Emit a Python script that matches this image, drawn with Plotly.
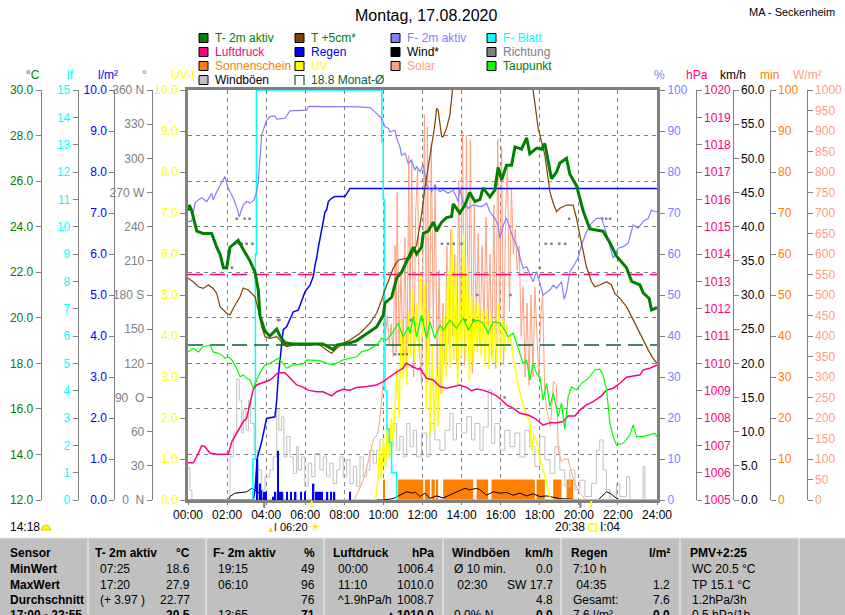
import plotly.graph_objects as go

# ── Messwerte (Stunde, Wert) ────────────────────────────────────────────────
T2M = [(0, 24.7), (0.07, 24.95), (0.19, 24.7), (0.45, 23.8), (0.77, 23.7), (1.21, 23.7), (1.47, 23.1),
       (1.64, 22.8), (1.81, 22.2), (1.98, 22.2), (2.15, 23.1), (2.57, 23.4), (2.83, 23.0), (3.17, 22.5),
       (3.43, 22.0), (3.54, 21.4), (3.60, 21.2), (3.68, 20.1), (3.94, 19.4), (4.19, 19.2), (4.54, 19.5),
       (4.71, 19.2), (4.96, 18.9), (5.37, 18.85), (6.91, 18.85), (7.42, 18.6), (7.61, 18.8), (7.93, 18.85),
       (8.29, 18.9), (8.63, 19.0), (9.14, 19.3), (9.65, 19.6), (9.99, 20.1), (10.08, 20.65), (10.42, 20.9),
       (10.68, 21.75), (10.93, 22.0), (11.36, 22.8), (11.53, 23.1), (11.70, 22.8), (11.95, 23.1),
       (12.04, 23.7), (12.29, 23.8), (12.55, 24.2), (12.72, 23.8), (12.98, 24.2), (13.23, 24.4),
       (13.49, 24.45), (13.57, 25.0), (13.91, 24.6), (14.17, 24.95), (14.42, 25.5), (14.68, 25.1),
       (14.94, 25.2), (15.10, 25.7), (15.45, 25.3), (15.70, 25.6), (15.87, 26.6), (16.05, 26.05),
       (16.30, 26.7), (16.56, 26.7), (16.73, 27.5), (17.07, 27.4), (17.33, 27.9), (17.49, 27.2),
       (17.84, 27.45), (18.09, 27.4), (18.26, 27.65), (18.43, 26.85), (18.60, 26.1), (18.86, 26.4),
       (19.03, 26.8), (19.37, 27.0), (19.54, 26.3), (19.88, 25.8), (20.22, 24.7), (20.56, 23.9),
       (21.24, 23.8), (21.59, 23.3), (21.93, 22.7), (22.44, 22.2), (22.70, 21.6), (23.12, 21.45),
       (23.29, 21.1), (23.60, 20.85), (23.72, 20.35), (24.0, 20.45)]

T5CM = [(0, 21.73), (0.27, 21.58), (0.53, 21.36), (0.78, 21.29), (1.04, 21.44), (1.29, 21.29), (1.47, 21.07),
        (1.64, 20.49), (1.98, 20.2), (2.15, 20.12), (2.32, 20.42), (2.66, 20.92), (2.83, 21.31), (3.08, 21.22),
        (3.43, 20.92), (3.60, 20.34), (3.77, 19.61), (3.94, 19.17), (4.19, 19.1), (4.54, 19.17), (4.71, 19.02),
        (4.87, 18.85), (5.05, 18.73), (5.39, 18.8), (6.41, 18.85), (6.75, 18.8), (7.09, 18.59), (7.35, 18.44),
        (7.61, 18.66), (7.94, 18.88), (8.29, 19.02), (8.80, 19.32), (9.31, 19.76), (9.65, 20.2), (9.91, 20.78),
        (10.08, 21.22), (10.50, 22.17), (10.76, 22.54), (11.19, 22.61), (11.36, 22.61), (11.70, 23.19),
        (11.95, 24.51), (12.12, 25.68), (12.29, 26.63), (12.47, 27.58), (12.63, 28.46), (12.72, 29.19),
        (12.80, 29.12), (12.98, 27.95), (13.06, 27.95), (13.23, 28.32), (13.40, 28.9), (13.49, 29.63),
        (13.55, 30.2), (14.0, 32.0), (14.5, 33.5), (15.0, 34.5), (15.5, 35.0), (16.0, 35.0), (16.5, 34.5),
        (17.0, 33.0), (17.4, 31.5), (17.66, 30.0), (17.75, 29.34), (17.92, 28.32), (18.09, 27.73),
        (18.26, 27.14), (18.43, 26.12), (18.52, 25.53), (18.69, 25.03), (18.86, 24.66), (19.03, 24.81),
        (19.37, 24.95), (19.71, 24.95), (19.88, 24.37), (20.05, 23.63), (20.22, 22.9), (20.39, 22.24),
        (20.65, 21.58), (20.82, 21.36), (21.07, 21.44), (21.42, 21.58), (21.67, 21.44), (21.84, 21.07),
        (22.10, 20.85), (22.44, 20.49), (22.70, 20.05), (22.95, 19.61), (23.29, 19.02), (23.55, 18.59),
        (23.80, 18.22), (24.0, 18.0)]

F2M = [(0, 67.9), (0.19, 68.0), (0.36, 72.4), (0.53, 73.2), (0.70, 73.7), (0.96, 72.8), (1.21, 74.8),
       (1.29, 73.2), (1.47, 75.2), (1.64, 76.8), (1.81, 78.5), (1.89, 78.9), (2.06, 76.0), (2.32, 73.6),
       (2.49, 71.5), (2.62, 69.1), (2.83, 72.0), (3.00, 72.8), (3.17, 72.4), (3.38, 73.2), (3.51, 75.2),
       (3.60, 77.6), (3.65, 81.3), (3.77, 89.0), (3.99, 92.3), (4.19, 93.5), (4.45, 93.7), (4.54, 92.9),
       (4.96, 93.1), (5.22, 94.9), (6.07, 95.1), (6.17, 96.0), (8.80, 95.9), (9.31, 95.7), (9.65, 94.3),
       (9.91, 93.1), (10.08, 91.0), (10.25, 90.7), (10.33, 89.8), (10.59, 90.2), (10.68, 88.2),
       (10.84, 86.2), (10.93, 84.1), (11.10, 84.6), (11.27, 82.1), (11.44, 82.9), (11.61, 80.5),
       (11.70, 81.3), (11.87, 80.1), (12.04, 81.7), (12.21, 76.8), (12.47, 75.2), (12.63, 76.8),
       (12.89, 75.2), (13.06, 75.6), (13.31, 74.8), (13.57, 75.6), (13.83, 72.8), (13.91, 76.0),
       (14.08, 72.4), (14.34, 71.1), (14.59, 72.0), (15.02, 71.5), (15.28, 72.4), (15.45, 70.3),
       (15.70, 68.7), (15.87, 67.1), (15.96, 63.8), (16.13, 67.1), (16.30, 68.7), (16.47, 66.3),
       (16.64, 63.8), (16.81, 62.2), (16.98, 59.0), (17.15, 56.5), (17.33, 56.9), (17.49, 54.9),
       (17.66, 53.2), (17.84, 55.7), (18.01, 52.4), (18.17, 50.0), (18.52, 51.2), (18.69, 52.4),
       (18.86, 51.6), (19.11, 53.2), (19.25, 49.0), (19.37, 50.8), (19.54, 55.7), (19.71, 56.9),
       (19.96, 59.0), (20.14, 62.2), (20.39, 65.4), (20.65, 67.5), (20.91, 68.7), (21.16, 68.7),
       (21.33, 66.3), (21.59, 62.2), (21.76, 59.0), (22.01, 61.4), (22.27, 61.8), (22.52, 62.6),
       (22.78, 67.1), (23.03, 66.3), (23.29, 67.9), (23.55, 68.7), (23.72, 70.7), (23.89, 70.3), (24.0, 70.3)]

LUFTDRUCK = [(0, 1006.36), (0.27, 1006.36), (0.53, 1006.71), (0.70, 1006.99), (0.87, 1006.95), (1.13, 1006.71),
             (1.47, 1006.67), (2.06, 1006.67), (2.24, 1007.13), (2.40, 1007.32), (2.57, 1007.56), (2.83, 1007.87),
             (3.00, 1007.99), (3.17, 1008.48), (3.26, 1008.78), (3.34, 1009.05), (3.51, 1009.21), (3.77, 1009.27),
             (3.94, 1009.33), (4.19, 1009.39), (4.36, 1009.49), (4.62, 1009.66), (4.96, 1009.66), (5.22, 1009.45),
             (5.56, 1009.21), (5.82, 1009.15), (6.15, 1009.02), (6.58, 1008.96), (6.92, 1008.96), (7.35, 1008.81),
             (7.61, 1008.96), (7.94, 1009.05), (8.29, 1009.02), (8.63, 1009.12), (9.14, 1009.15), (9.65, 1009.21),
             (9.99, 1009.33), (10.33, 1009.51), (10.68, 1009.69), (11.01, 1009.82), (11.17, 1010.0),
             (11.53, 1009.87), (11.78, 1009.78), (11.87, 1009.82), (12.21, 1009.45), (12.55, 1009.39),
             (12.89, 1009.15), (13.23, 1009.09), (13.57, 1009.15), (13.91, 1009.21), (14.26, 1009.12),
             (14.51, 1009.0), (14.77, 1009.06), (15.10, 1009.02), (15.45, 1008.93), (15.79, 1008.81),
             (16.05, 1008.66), (16.30, 1008.48), (16.64, 1008.36), (16.98, 1008.17), (17.41, 1008.11),
             (17.75, 1007.99), (18.17, 1007.74), (18.52, 1007.83), (18.86, 1007.83), (19.20, 1007.87),
             (19.45, 1008.07), (19.80, 1008.07), (20.05, 1008.29), (20.39, 1008.48), (20.73, 1008.6),
             (21.16, 1008.81), (21.42, 1009.02), (21.76, 1009.09), (22.10, 1009.27), (22.44, 1009.49),
             (22.78, 1009.54), (23.12, 1009.57), (23.29, 1009.76), (23.63, 1009.82), (24.0, 1009.94)]

TAUPUNKT = [(0, 18.5), (0.27, 18.66), (0.53, 18.5), (0.78, 18.73), (1.13, 18.8), (1.29, 18.5), (1.55, 18.44),
            (1.72, 18.37), (1.89, 18.22), (2.06, 18.29), (2.24, 18.15), (2.49, 17.78), (2.66, 17.41),
            (2.83, 17.49), (3.0, 17.34), (3.17, 17.27), (3.34, 16.9), (3.51, 17.27), (3.77, 17.71),
            (3.94, 17.93), (4.19, 18.0), (4.45, 18.15), (4.62, 18.22), (4.79, 18.07), (5.05, 17.78),
            (5.39, 17.93), (5.9, 17.97), (6.07, 18.15), (6.75, 18.12), (7.09, 18.0), (7.43, 17.93),
            (7.94, 18.15), (8.29, 18.22), (8.63, 18.29), (8.88, 18.51), (9.22, 18.59), (9.65, 18.8),
            (9.91, 19.1), (10.16, 19.02), (10.5, 19.39), (10.76, 19.76), (11.01, 19.17), (11.27, 19.61),
            (11.36, 19.32), (11.53, 20.05), (11.7, 19.17), (11.95, 20.12), (12.21, 19.1), (12.38, 19.83),
            (12.63, 19.1), (12.89, 19.68), (13.06, 19.46), (13.4, 19.9), (13.74, 19.54), (14.08, 19.98),
            (14.34, 19.46), (14.59, 19.83), (14.85, 19.9), (15.1, 19.76), (15.36, 19.32), (15.62, 19.83),
            (15.96, 19.76), (16.21, 19.46), (16.38, 19.17), (16.64, 19.32), (16.81, 18.88), (16.98, 18.44),
            (17.15, 18.0), (17.33, 18.15), (17.49, 17.27), (17.66, 18.0), (17.84, 17.56), (18.01, 17.41),
            (18.17, 16.39), (18.35, 17.12), (18.52, 16.1), (18.69, 16.68), (18.94, 15.66), (19.11, 16.25),
            (19.28, 15.1), (19.45, 16.53), (19.63, 16.97), (19.88, 16.83), (20.14, 17.12), (20.48, 17.34),
            (20.82, 17.71), (21.07, 17.74), (21.24, 17.49), (21.42, 16.83), (21.59, 15.37), (21.76, 14.78),
            (21.93, 14.41), (22.27, 14.49), (22.61, 14.85), (22.78, 15.29), (22.95, 14.78), (23.29, 14.78),
            (23.63, 14.85), (23.89, 14.93), (24.0, 14.78)]

REGEN_SUMME = [(0, 0), (3.34, 0), (3.43, 0.24), (3.54, 1.02), (3.77, 1.42), (3.94, 1.87), (4.02, 1.99),
               (4.45, 2.03), (4.54, 2.44), (4.62, 3.01), (4.67, 3.25), (4.79, 3.9), (4.87, 4.15), (5.05, 4.23),
               (5.22, 4.39), (5.39, 4.59), (5.64, 4.63), (5.82, 4.84), (5.98, 5.07), (6.24, 5.24), (6.41, 5.45),
               (6.50, 5.73), (6.58, 5.89), (6.66, 6.14), (6.84, 6.54), (6.92, 6.79), (7.01, 7.03), (7.09, 7.07),
               (7.18, 7.28), (7.35, 7.36), (7.51, 7.4), (8.03, 7.4), (8.29, 7.6), (24.0, 7.6)]

REGEN_5MIN = [(3.56, 1.0), (3.68, 0.4), (3.77, 0.24), (3.89, 0.2), (3.99, 0.2), (4.35, 0.08), (4.48, 0.2),
              (4.59, 1.2), (4.71, 0.2), (4.84, 0.2), (5.05, 0.2), (5.27, 0.2), (5.51, 0.2), (5.78, 0.2),
              (6.00, 0.2), (6.43, 0.4), (6.55, 0.2), (6.65, 0.2), (6.75, 0.2), (6.85, 0.2), (7.14, 0.2),
              (7.31, 0.2), (7.50, 0.2), (8.29, 0.2)]

F_BLATT = [(0, 0), (3.32, 1.5), (3.45, 9.0), (3.5, 15), (9.92, 13.1), (9.99, 11.0), (10.04, 7.5),
           (10.08, 4.0), (10.18, 2.6), (10.3, 2.1), (10.42, 1.0), (10.68, 0), (24, 0)]

SOLAR = [(0, 0), (8.5, 0), (8.7, 20), (8.9, 40), (9.1, 70), (9.3, 110), (9.5, 150), (9.7, 160), (9.8, 190),
         (9.9, 240), (10.0, 290), (10.05, 500), (10.1, 400), (10.2, 450), (10.3, 380), (10.4, 430), (10.5, 350),
         (10.6, 620), (10.65, 360), (10.7, 750), (10.8, 380), (10.9, 560), (11.0, 330), (11.1, 640), (11.2, 300),
         (11.3, 840), (11.35, 420), (11.45, 830), (11.55, 300), (11.65, 700), (11.75, 810), (11.85, 360),
         (11.95, 280), (12.05, 700), (12.1, 940), (12.2, 320), (12.25, 910), (12.35, 330), (12.45, 870),
         (12.55, 420), (12.65, 770), (12.75, 300), (12.85, 560), (12.95, 260), (13.05, 480), (13.15, 330),
         (13.25, 620), (13.35, 380), (13.45, 660), (13.55, 400), (13.65, 600), (13.75, 330), (13.85, 780),
         (13.95, 420), (14.05, 900), (14.15, 330), (14.25, 890), (14.35, 380), (14.45, 880), (14.55, 310),
         (14.65, 720), (14.75, 420), (14.85, 650), (14.95, 380), (15.05, 620), (15.15, 430), (15.25, 690),
         (15.35, 400), (15.45, 600), (15.55, 350), (15.65, 720), (15.75, 320), (15.85, 880), (15.95, 420),
         (16.05, 860), (16.15, 330), (16.25, 700), (16.35, 820), (16.45, 460), (16.55, 760), (16.65, 600),
         (16.75, 660), (16.85, 560), (16.95, 620), (17.05, 400), (17.15, 520), (17.25, 300), (17.35, 480),
         (17.45, 280), (17.55, 500), (17.65, 300), (17.75, 520), (17.85, 420), (17.95, 300), (18.05, 450),
         (18.15, 500), (18.25, 270), (18.35, 220), (18.45, 200), (18.55, 180), (18.7, 290), (18.85, 280),
         (18.95, 120), (19.1, 95), (19.3, 100), (19.45, 100), (19.6, 70), (19.8, 40), (20.0, 20), (20.2, 8),
         (20.35, 0), (24, 0)]

UV = [(0, 0), (9.6, 0), (9.7, 0.4), (9.8, 1.3), (9.9, 0.5), (10.0, 1.5), (10.1, 0.8), (10.2, 1.8), (10.3, 1.0),
      (10.4, 2.0), (10.5, 1.4), (10.6, 2.3), (10.7, 3.2), (10.8, 2.0), (10.9, 4.4), (11.0, 3.0), (11.1, 4.0),
      (11.2, 2.8), (11.3, 4.6), (11.4, 3.5), (11.5, 5.1), (11.6, 3.4), (11.7, 4.8), (11.8, 3.6), (11.9, 5.5),
      (12.0, 4.0), (12.1, 5.3), (12.2, 2.2), (12.3, 4.6), (12.4, 1.6), (12.5, 3.8), (12.6, 1.7), (12.7, 3.2),
      (12.8, 1.8), (12.9, 4.2), (13.0, 2.6), (13.1, 4.5), (13.2, 3.0), (13.3, 5.6), (13.4, 3.2), (13.5, 6.6),
      (13.6, 3.4), (13.7, 5.8), (13.8, 2.8), (13.9, 5.0), (14.0, 3.5), (14.1, 6.5), (14.2, 3.4), (14.3, 5.7),
      (14.4, 2.9), (14.5, 5.0), (14.6, 3.3), (14.7, 4.9), (14.8, 3.6), (14.9, 4.8), (15.0, 3.5), (15.1, 4.6),
      (15.2, 3.3), (15.3, 4.7), (15.4, 3.2), (15.5, 4.5), (15.6, 3.4), (15.7, 4.3), (15.8, 3.3), (15.9, 4.8),
      (16.0, 3.4), (16.1, 4.4), (16.2, 3.6), (16.3, 4.3), (16.4, 3.8), (16.5, 4.0), (16.7, 3.3), (16.9, 2.8),
      (17.1, 2.4), (17.3, 2.1), (17.5, 1.9), (17.6, 1.2), (17.7, 1.6), (17.9, 1.3), (18.0, 1.0), (18.2, 0.7),
      (18.4, 0.3), (18.55, 0), (24, 0)]

BOEEN = [(0, 4.7), (0.1, 1.4), (0.2, 0), (2.1, 0), (2.15, 6.3), (2.32, 9.8), (2.49, 17.7), (2.62, 14.6),
         (2.75, 9.8), (2.83, 13.2), (2.97, 10.2), (3.09, 14.6), (3.21, 11.2), (3.38, 7.3), (3.55, 4.4),
         (3.77, 1.5), (3.94, 3.4), (4.19, 4.4), (4.36, 6.3), (4.54, 13.2), (4.65, 10.2), (4.79, 12.2),
         (4.91, 6.3), (5.05, 9.3), (5.22, 6.3), (5.39, 3.9), (5.56, 7.8), (5.64, 4.4), (5.81, 6.3), (5.98, 2.0),
         (6.15, 5.4), (6.33, 3.4), (6.5, 6.8), (6.75, 4.4), (6.92, 6.3), (7.09, 3.4), (7.26, 5.4), (7.43, 2.4),
         (7.61, 4.4), (7.77, 6.3), (7.94, 3.4), (8.12, 5.9), (8.29, 2.4), (8.46, 4.9), (8.63, 2.0), (8.8, 6.3),
         (8.97, 3.4), (9.14, 4.4), (9.31, 7.3), (9.48, 5.4), (9.65, 7.3), (9.82, 8.8), (9.99, 6.3),
         (10.16, 10.2), (10.33, 7.8), (10.5, 11.2), (10.68, 7.3), (10.84, 9.3), (11.01, 6.3), (11.19, 11.2),
         (11.36, 7.8), (11.53, 10.2), (11.7, 6.3), (11.95, 9.8), (12.21, 6.3), (12.38, 11.2), (12.63, 8.8),
         (12.89, 7.3), (13.15, 10.2), (13.4, 12.7), (13.57, 8.8), (13.74, 11.2), (14.0, 9.8), (14.26, 12.2),
         (14.51, 8.8), (14.68, 11.2), (14.94, 7.3), (15.1, 10.7), (15.36, 16.1), (15.53, 8.3), (15.7, 11.2),
         (15.96, 7.3), (16.21, 10.2), (16.47, 7.8), (16.73, 9.8), (16.98, 6.3), (17.24, 10.2), (17.49, 7.8),
         (17.75, 4.9), (18.0, 9.3), (18.26, 5.9), (18.52, 3.9), (18.77, 7.8), (19.03, 4.4), (19.28, 2.0),
         (19.54, 4.4), (19.8, 1.5), (20.05, 2.9), (20.31, 0.5), (20.65, 2.4), (20.9, 7.3), (21.07, 8.8),
         (21.24, 4.4), (21.42, 1.5), (21.59, 0), (21.93, 2.4), (22.1, 0.5), (22.44, 3.4), (22.61, 0),
         (23.25, 0), (23.29, 4.9), (23.38, 0), (24, 0)]

WIND = [(0, 0), (2.05, 0), (2.15, 0.5), (2.4, 1.0), (2.75, 1.1), (3.0, 1.2), (3.26, 1.7), (3.43, 1.5),
        (3.6, 1.2), (3.77, 0.25), (3.9, 0), (10.0, 0), (10.5, 0.2), (10.84, 0.7), (11.19, 1.2), (11.53, 1.0),
        (11.62, 1.2), (11.87, 0.5), (12.12, 1.0), (12.38, 0.25), (12.72, 0.6), (13.06, 0.3), (13.4, 0.73),
        (13.74, 1.2), (14.17, 1.7), (14.42, 1.5), (14.77, 1.7), (14.94, 1.5), (15.28, 0.7), (15.62, 1.2),
        (15.96, 1.0), (16.3, 1.1), (16.64, 0.7), (16.98, 1.0), (17.33, 0.6), (17.66, 0.9), (18.01, 0.5),
        (18.35, 0.6), (18.69, 0.35), (19.03, 0.2), (19.71, 0.1), (20.05, 0), (21.0, 0), (21.07, 0.25),
        (21.42, 1.2), (21.59, 1.0), (21.93, 0.25), (22.1, 0), (24, 0)]

RICHTUNG = [(2.25, 204), (2.4, 225), (2.5, 247), (2.6, 225), (2.75, 225), (2.9, 247), (3.0, 225), (3.15, 247),
            (3.3, 225), (4.6, 158), (4.68, 158), (10.6, 128), (10.8, 128), (11.0, 128), (11.2, 128),
            (11.4, 158), (11.5, 117), (12.0, 158), (13.0, 225), (13.3, 225), (13.6, 225), (14.0, 225),
            (14.2, 158), (14.6, 158), (14.8, 180), (16.2, 90), (16.5, 180), (18.0, 204), (18.3, 225),
            (18.6, 225), (19.0, 225), (19.3, 225), (19.5, 247), (21.2, 247), (21.4, 247), (21.6, 247)]

SONNE_INTERVALLE = [(10.0, 10.08), (10.75, 12.04), (12.12, 12.38), (12.46, 12.63), (12.68, 12.80),
                    (13.06, 14.59), (14.77, 15.36), (15.53, 17.75), (17.84, 18.26), (18.69, 19.11), (19.37, 19.71)]
SONNE_MIN = 5

MONAT_MITTEL = 18.8
NORMALDRUCK = 1013.25
SUN_MARKS = [(3.9, "#808080"), (6.33, "#FFFF00"), (20.08, "#808080"), (20.63, "#FFFF00")]

# ── Achsenbeschriftungen ───────────────────────────────────────────────────
X_TICKS = list(range(0, 25, 2))
X_TEXT = [f"{h:02d}:00" for h in X_TICKS]
C_TICKS = [12, 14, 16, 18, 20, 22, 24, 26, 28, 30]
LF_TICKS = list(range(0, 16))
L_TICKS = list(range(0, 11))
DEG_TICKS = list(range(0, 361, 30))
DEG_TEXT = ["0\u00a0\u00a0N", "30", "60", "90\u00a0\u00a0O", "120", "150", "180 S", "210", "240",
            "270 W", "300", "330", "360 N"]
UV_TICKS = list(range(0, 11))
PCT_TICKS = list(range(0, 101, 10))
HPA_TICKS = list(range(1005, 1021))
KMH_TICKS = list(range(0, 61, 5))
MIN_TICKS = list(range(0, 101, 10))
W_TICKS = list(range(0, 1001, 50))

TABLE = [
    ["Sensor", "T- 2m aktiv", "°C", "F- 2m aktiv", "%", "Luftdruck", "hPa", "Windböen", "km/h", "Regen", "l/m²", "PMV+2:25"],
    ["MinWert", "07:25", "18.6", "19:15", "49", "00:00", "1006.4", "Ø 10 min.", "0.0", "7:10 h", "", "WC 20.5 °C"],
    ["MaxWert", "17:20", "27.9", "06:10", "96", "11:10", "1010.0", " 02:30", "SW 17.7", " 04:35", "1.2", "TP 15.1 °C"],
    ["Durchschnitt", "(+ 3.97 )", "22.77", "", "76", "^1.9hPa/h", "1008.7", "", "4.8", "Gesamt:", "7.6", "1.2hPa/3h"],
    ["17:00 - 22:55", "", "20.5", "13:65 ...", "71", "...", "▲1010.0", "0.0% N", "0.0", "7.6 l/m²", "0.0", "0.5 hPa/1h"],
]

W, H = 845, 615
GREY = "#808080"
FONT = "Liberation Sans, Arial, sans-serif"


def px(x):
    return x / W


def py(y):
    return 1 - y / H


def xy(pairs):
    a, b = zip(*pairs)
    return list(a), list(b)


fig = go.Figure()

# Reihenfolge der Achsen = Zeichenreihenfolge (unten -> oben)
# y: min | y2: km/h | y3: W/m² | y4: UV | y5: l/m² | y6: ° | y7: lf | y8: hPa | y9: % | y10: °C
sx = [(a + b) / 2 for a, b in SONNE_INTERVALLE]
sw = [b - a for a, b in SONNE_INTERVALLE]
fig.add_trace(go.Bar(x=sx, y=[SONNE_MIN] * len(sx), width=sw, marker=dict(color="#FF8000", line_width=0),
                     yaxis="y"))

x, y = xy(BOEEN)
fig.add_trace(go.Scatter(x=x, y=y, mode="lines", line=dict(color="#C0C0C0", width=1, shape="hv"), yaxis="y2"))
x, y = xy(WIND)
fig.add_trace(go.Scatter(x=x, y=y, mode="lines", line=dict(color="black", width=1), yaxis="y2"))

x, y = xy(SOLAR)
fig.add_trace(go.Scatter(x=x, y=y, mode="lines", line=dict(color="#FFA080", width=1), yaxis="y3"))

x, y = xy(UV)
fig.add_trace(go.Scatter(x=x, y=y, mode="lines", line=dict(color="#FFFF00", width=1.5), yaxis="y4"))

x, y = xy(REGEN_5MIN)
fig.add_trace(go.Bar(x=x, y=y, width=0.07, marker=dict(color="#0000FF", line_width=0), yaxis="y5"))
x, y = xy(REGEN_SUMME)
fig.add_trace(go.Scatter(x=x, y=y, mode="lines", line=dict(color="#0000FF", width=1.5), yaxis="y5"))

x, y = xy(RICHTUNG)
fig.add_trace(go.Scatter(x=x, y=y, mode="markers",
                         marker=dict(symbol="square", size=2.5, color=GREY, line_width=0), yaxis="y6"))

x, y = xy(F_BLATT)
fig.add_trace(go.Scatter(x=x, y=y, mode="lines", line=dict(color="#00FFFF", width=1.5, shape="hv"), yaxis="y7"))

x, y = xy(LUFTDRUCK)
fig.add_trace(go.Scatter(x=x, y=y, mode="lines", line=dict(color="#FF0080", width=1.5), yaxis="y8"))
fig.add_trace(go.Scatter(x=[0, 24], y=[NORMALDRUCK] * 2, mode="lines",
                         line=dict(color="#FF0080", width=1.5, dash="15px,7px"), yaxis="y8"))

x, y = xy(F2M)
fig.add_trace(go.Scatter(x=x, y=y, mode="lines", line=dict(color="#8080FF", width=1.2), yaxis="y9"))

fig.add_trace(go.Scatter(x=[0, 24], y=[MONAT_MITTEL] * 2, mode="lines",
                         line=dict(color="#006633", width=1.5, dash="15px,7px"), yaxis="y10"))
x, y = xy(TAUPUNKT)
fig.add_trace(go.Scatter(x=x, y=y, mode="lines", line=dict(color="#00FF00", width=1.2), yaxis="y10"))
x, y = xy(T5CM)
fig.add_trace(go.Scatter(x=x, y=y, mode="lines", line=dict(color="#804000", width=1.2), yaxis="y10"))
x, y = xy(T2M)
fig.add_trace(go.Scatter(x=x, y=y, mode="lines", line=dict(color="#008000", width=3), yaxis="y10"))


def yax(rng, vals, color, side, pos=None, text=None, fmt=None, frame=False, grid=False, main=False):
    d = dict(range=rng, tickvals=vals, tickfont=dict(color=color, size=12), side=side,
             domain=[py(500), py(90)], showline=True, linecolor=GREY, linewidth=3 if frame else 1,
             ticks="outside", ticklen=5, tickcolor=GREY, showgrid=grid, zeroline=False, automargin=False,
             fixedrange=True)
    if grid:
        d.update(gridcolor=GREY, griddash="4px,4px", gridwidth=1)
    if text is not None:
        d["ticktext"] = text
    if fmt:
        d["tickformat"] = fmt
    if pos is None:
        d["anchor"] = "x"
    else:
        d["anchor"] = "free"
        d["position"] = pos
    if not main:
        d["overlaying"] = "y"
    return d


fig.update_layout(
    width=W, height=H, template="none", showlegend=False, barmode="overlay",
    margin=dict(l=0, r=0, t=0, b=0),
    paper_bgcolor="white", plot_bgcolor="white",
    font=dict(family=FONT, size=12, color="black"),
    xaxis=dict(domain=[px(188), px(657)], range=[0, 24], tickvals=X_TICKS, ticktext=X_TEXT,
               tickfont=dict(color="black", size=12), showgrid=True, gridcolor=GREY, griddash="4px,4px",
               showline=True, linewidth=3, linecolor=GREY, mirror=True, ticks="outside", ticklen=2,
               tickcolor=GREY, zeroline=False, automargin=False, fixedrange=True),
    yaxis=yax([0, 100], MIN_TICKS, "#FF8000", "right", pos=px(769.7), main=True),
    yaxis2=yax([0, 60], KMH_TICKS, "black", "right", pos=px(732.7), fmt=".1f"),
    yaxis3=yax([0, 1000], W_TICKS, "#FFA080", "right", pos=px(806.7)),
    yaxis4=yax([0, 10], UV_TICKS, "#FFFF00", "left", fmt=".1f", frame=True),
    yaxis5=yax([0, 10], L_TICKS, "#0000FF", "left", pos=px(114.3), fmt=".1f"),
    yaxis6=yax([0, 360], DEG_TICKS, GREY, "left", pos=px(151.7), text=DEG_TEXT),
    yaxis7=yax([0, 15], LF_TICKS, "#00FFFF", "left", pos=px(77.7)),
    yaxis8=yax([1005, 1020], HPA_TICKS, "#FF0080", "right", pos=px(695.7)),
    yaxis9=yax([0, 100], PCT_TICKS, "#8080FF", "right", frame=True),
    yaxis10=yax([12, 30], C_TICKS, "#008000", "left", pos=px(40.7), fmt=".1f", grid=True),
)

ann = []
shapes = []

# ── Titel ──────────────────────────────────────────────────────────────────
ann.append(dict(x=px(426), y=py(15), text="Montag, 17.08.2020", font=dict(size=16, color="black")))
ann.append(dict(x=px(837), y=py(12), text="MA - Seckenheim", xanchor="right", font=dict(size=11, color="black")))

# ── Achsentitel ────────────────────────────────────────────────────────────
for xpos, txt, col in [(24, "°C", "#008000"), (65, "lf", "#00FFFF"), (96, "l/m²", "#0000FF"), (140, "°", GREY),
                       (169, "UV-I", "#FFFF00"), (667, "%", "#8080FF"), (710, "hPa", "#FF0080"),
                       (748, "km/h", "black"), (781, "min", "#FF8000"), (824, "W/m²", "#FFA080")]:
    ann.append(dict(x=px(xpos), y=py(75), text=txt, font=dict(size=12, color=col)))

# ── Legende ────────────────────────────────────────────────────────────────
LEG_X = [199, 295, 391, 487]
LEG_Y = [38, 52, 66, 80]
legend_items = [
    (0, 0, "T- 2m aktiv", "#008000", "#008000"), (1, 0, "T +5cm*", "#804000", "#008000"),
    (2, 0, "F- 2m aktiv", "#8080FF", "#8080FF"), (3, 0, "F- Blatt", "#00FFFF", "#00FFFF"),
    (0, 1, "Luftdruck", "#FF0080", "#FF0080"), (1, 1, "Regen", "#0000FF", "#0000FF"),
    (2, 1, "Wind*", "black", "black"), (3, 1, "Richtung", GREY, GREY),
    (0, 2, "Sonnenschein", "#FF8000", "#FF8000"), (1, 2, "UV", "#FFFF00", "#FFFF00"),
    (2, 2, "Solar", "#FFA080", "#FFA080"), (3, 2, "Taupunkt", "#00FF00", "#008000"),
    (0, 3, "Windböen", "#C0C0C0", "black"),
]
for c, r, label, fill, tcol in legend_items:
    x0, yc = LEG_X[c], LEG_Y[r]
    shapes.append(dict(type="rect", xref="paper", yref="paper", x0=px(x0), x1=px(x0 + 9),
                       y0=py(yc + 4.5), y1=py(yc - 4.5), fillcolor=fill, line=dict(color="black", width=1)))
    ann.append(dict(x=px(x0 + 14), y=py(yc), text=label, xanchor="left", font=dict(size=12, color=tcol)))
x0, yc = LEG_X[1], LEG_Y[3]
shapes.append(dict(type="path", xref="paper", yref="paper", line=dict(color="#006633", width=1.2),
                   path=f"M {px(x0)} {py(yc + 5)} L {px(x0)} {py(yc - 4.5)} L {px(x0 + 9)} {py(yc - 4.5)} "
                        f"L {px(x0 + 9)} {py(yc + 5)}"))
ann.append(dict(x=px(x0 + 14), y=py(yc), text=f"{MONAT_MITTEL} Monat-Ø", xanchor="left",
                font=dict(size=12, color="#006633")))

# ── Sonnen-/Mondzeiten ─────────────────────────────────────────────────────
for t, col in SUN_MARKS:
    shapes.append(dict(type="line", xref="x", yref="paper", x0=t, x1=t, y0=py(501), y1=py(508),
                       line=dict(color=col, width=2)))
ann.append(dict(x=px(8), y=py(527), text="14:18", xanchor="left", font=dict(size=12, color="black")))
shapes.append(dict(type="path", xref="paper", yref="paper", fillcolor="#FFFF00", line=dict(color="#E0D000", width=1),
                   path=f"M {px(41)} {py(530)} L {px(43)} {py(526)} L {px(46)} {py(525)} L {px(49)} {py(526)} "
                        f"L {px(51)} {py(530)} Z"))
ann.append(dict(x=px(265), y=py(529), text="▲", font=dict(size=8, color="#FFD700")))
ann.append(dict(x=px(272), y=py(527), text="I", font=dict(size=10, color="black")))
ann.append(dict(x=px(278), y=py(527), text="06:20", xanchor="left", font=dict(size=11, color="black")))
ann.append(dict(x=px(315), y=py(527), text="☀", font=dict(size=12, color="#FFE000")))
ann.append(dict(x=px(587), y=py(527), text="20:38", xanchor="right", font=dict(size=12, color="black")))
shapes.append(dict(type="rect", xref="paper", yref="paper", x0=px(589), x1=px(596), y0=py(531), y1=py(524),
                   line=dict(color="#FFFF00", width=1.5)))
ann.append(dict(x=px(598), y=py(527), text="I:04", xanchor="left", font=dict(size=12, color="black")))

# ── Tabelle ────────────────────────────────────────────────────────────────
shapes.append(dict(type="rect", xref="paper", yref="paper", x0=0, x1=1, y0=0, y1=py(538),
                   fillcolor="#C0C0C0", line_width=0, layer="below"))
shapes.append(dict(type="line", xref="paper", yref="paper", x0=0, x1=1, y0=py(538), y1=py(538),
                   line=dict(color="#E8E8E8", width=1)))
for xs in [88, 206, 324, 443, 561, 680, 799]:
    shapes.append(dict(type="line", xref="paper", yref="paper", x0=px(xs), x1=px(xs), y0=0, y1=py(538),
                       line=dict(color="#F0F0F0", width=1)))

COL_LEFT = [8, 98, 216, 336, 452, 571, 690]
COL_RIGHT = [192, 317, 436, 555, 672]
ROW_Y = [553, 569, 585, 600, 615]
for ri, row in enumerate(TABLE):
    yy = py(ROW_Y[ri])
    head = ri == 0
    lefts = COL_LEFT if not head else [8, 93, 211, 331, 450, 569, 688]
    cells = [(lefts[0], row[0], "left", True)]
    for k in range(5):
        cells.append((lefts[k + 1], row[1 + 2 * k], "left", head))
        cells.append((COL_RIGHT[k], row[2 + 2 * k], "right", head or ri == 4))
    cells.append((lefts[6], row[11], "left", head))
    for xx, txt, anc, bold in cells:
        if not txt:
            continue
        ann.append(dict(x=px(xx), y=yy, text=f"<b>{txt}</b>" if bold else txt, xanchor=anc,
                        font=dict(size=12, color="black")))

for a in ann:
    a.setdefault("xref", "paper")
    a.setdefault("yref", "paper")
    a.setdefault("showarrow", False)
    a.setdefault("yanchor", "middle")

fig.update_layout(annotations=ann, shapes=shapes)

fig.write_html("out.html", config={"displayModeBar": False},
               post_script="document.body.style.margin='0px';document.body.style.overflow='hidden';")
